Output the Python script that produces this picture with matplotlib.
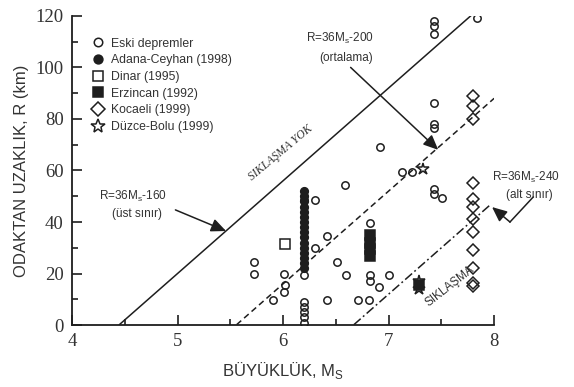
import numpy as np
import matplotlib.pyplot as plt

# Eski depremler (açık daireler)
eski_m = [7.84, 7.43, 7.43, 7.43, 7.43, 7.43, 7.43, 6.92, 7.13, 7.22, 7.43, 7.43, 7.51,
          6.59, 6.20, 6.30, 6.82, 6.42, 6.30, 6.51, 6.60, 6.20, 5.72, 5.72, 6.01, 6.02,
          6.01, 5.90, 6.42, 6.82, 6.82, 6.91, 7.00, 6.71, 6.81, 6.20, 6.20, 6.20, 6.20, 6.20]
eski_r = [119, 118, 116, 113, 86, 78, 76.5, 69, 59.5, 59.5, 53, 51, 49.5,
          54.5, 48.5, 48.5, 39.5, 34.5, 30, 24.5, 19.5, 19.5, 24.5, 20, 20, 15.5,
          12.8, 9.7, 9.7, 19.5, 17, 14.8, 19.5, 9.7, 9.7, 9, 7, 5, 3, 1]

# Adana-Ceyhan (1998)
adana_m = [6.2] * 16
adana_r = [52, 50, 48, 46, 44, 42, 40, 38, 36, 34, 32, 30, 28, 26, 24, 22]

# Dinar (1995)
dinar_m = [6.02]
dinar_r = [31.5]

# Erzincan (1992)
erzincan_m = [6.82, 6.82, 6.82, 6.82, 7.29]
erzincan_r = [27, 29.5, 32, 35, 15.5]

# Kocaeli (1999)
kocaeli_m = [7.8] * 12
kocaeli_r = [89, 85, 80, 55, 49, 46, 41, 36, 29, 22, 16.5, 15]

# Düzce-Bolu (1999)
duzce_m = [7.33, 7.29, 7.29]
duzce_r = [60.5, 17, 14]

# R = 36M - b doğruları: (b, M başlangıç, M bitiş)
ust_b, ust_m = 160, [4.45, 7.78]
ort_b, ort_m = 200, [5.56, 8.0]
alt_b, alt_m = 240, [6.67, 7.97]

ink = '#1e1e1e'
serif = 'Liberation Serif'
sans = 'Liberation Sans'

fig = plt.figure(figsize=(5.74, 3.87), dpi=100)
ax = fig.add_axes([0.1254, 0.160, 0.7355, 0.799])

for b, mm, ls in [(ust_b, ust_m, '-'), (ort_b, ort_m, (0, (4, 2.5))), (alt_b, alt_m, (0, (6, 2, 1.2, 2)))]:
    mm = np.array(mm)
    ax.plot(mm, 36 * mm - b, color=ink, lw=1.1, ls=ls, zorder=2)

mk = dict(linestyle='none', markeredgecolor=ink, markeredgewidth=1.1)
ax.plot(eski_m, eski_r, 'o', ms=5.3, markerfacecolor='none', label='Eski depremler', **mk)
ax.plot(adana_m, adana_r, 'o', ms=5.5, markerfacecolor=ink, label='Adana-Ceyhan (1998)', **mk)
ax.plot(dinar_m, dinar_r, 's', ms=6.5, markerfacecolor='none', label='Dinar (1995)', **mk)
ax.plot(erzincan_m, erzincan_r, 's', ms=6.5, markerfacecolor=ink, label='Erzincan (1992)', **mk)
ax.plot(kocaeli_m, kocaeli_r, 'D', ms=6, markerfacecolor='none', label='Kocaeli (1999)', **mk)
ax.plot(duzce_m, duzce_r, '*', ms=9, markerfacecolor='none', label='Düzce-Bolu (1999)', **mk)

ax.set_xlim(4, 8)
ax.set_ylim(0, 120)
ax.spines['top'].set_visible(False)
ax.spines['right'].set_visible(False)
for s in ['left', 'bottom']:
    ax.spines[s].set_color(ink)
    ax.spines[s].set_linewidth(1.3)

ax.set_xticks([4, 5, 6, 7, 8])
ax.set_xticks([4.5, 5.5, 6.5, 7.5], minor=True)
ax.set_yticks(np.arange(0, 121, 20))
ax.set_yticks(np.arange(10, 120, 20), minor=True)
ax.tick_params(which='major', direction='in', length=7, width=1.2, color=ink, pad=6)
ax.tick_params(which='minor', direction='in', length=4, width=1.2, color=ink)
for lab in ax.get_xticklabels() + ax.get_yticklabels():
    lab.set_fontfamily(serif)
    lab.set_fontsize(13.5)
    lab.set_color('#333333')

ax.set_xlabel(r'BÜYÜKLÜK, M$_\mathregular{S}$', fontfamily=sans, fontsize=12, color='#333333', labelpad=7)
ax.set_ylabel('ODAKTAN UZAKLIK, R (km)', fontfamily=sans, fontsize=12, color='#333333', labelpad=5)

leg = ax.legend(loc='upper left', bbox_to_anchor=(0.035, 0.945), frameon=False,
                prop={'family': sans, 'size': 8.8}, handlelength=1.0, handletextpad=0.6,
                labelspacing=0.38, borderaxespad=0, markerscale=1.15)
for t in leg.get_texts():
    t.set_color('#333333')

txt = dict(fontfamily=sans, fontsize=8.5, color='#333333', ha='center')
ax.text(4.58, 48.5, r'R=36M$_\mathregular{s}$-160', **txt)
ax.text(4.62, 42, '(üst sınır)', **txt)
ax.text(6.54, 110, r'R=36M$_\mathregular{s}$-200', **txt)
ax.text(6.6, 102.5, '(ortalama)', **txt)
ax.text(8.3, 56, r'R=36M$_\mathregular{s}$-240', clip_on=False, **txt)
ax.text(8.33, 49.5, '(alt sınır)', clip_on=False, **txt)

arr = dict(arrowstyle='-|>,head_length=0.9,head_width=0.4', color=ink, lw=1.1, shrinkA=0, shrinkB=0)
ax.annotate('', xy=(5.46, 36.5), xytext=(4.98, 44.7), arrowprops=arr)
ax.annotate('', xy=(7.47, 68), xytext=(6.64, 100), arrowprops=arr)
ax.annotate('', xy=(7.98, 45.8), xytext=(8.15, 40), arrowprops=arr, annotation_clip=False)
ax.plot([8.37, 8.15], [49.7, 40], color=ink, lw=1.1, clip_on=False)

ax.text(5.98, 67, 'SIKLAŞMA YOK', fontfamily=serif, style='italic', fontsize=8.5,
        color='#333333', rotation=40, ha='center', va='center')
ax.text(7.58, 15, 'SIKLAŞMA', fontfamily=sans, fontsize=8.5,
        color='#333333', rotation=38, ha='center', va='center')

fig.savefig('out.png', dpi=100, facecolor='white')
